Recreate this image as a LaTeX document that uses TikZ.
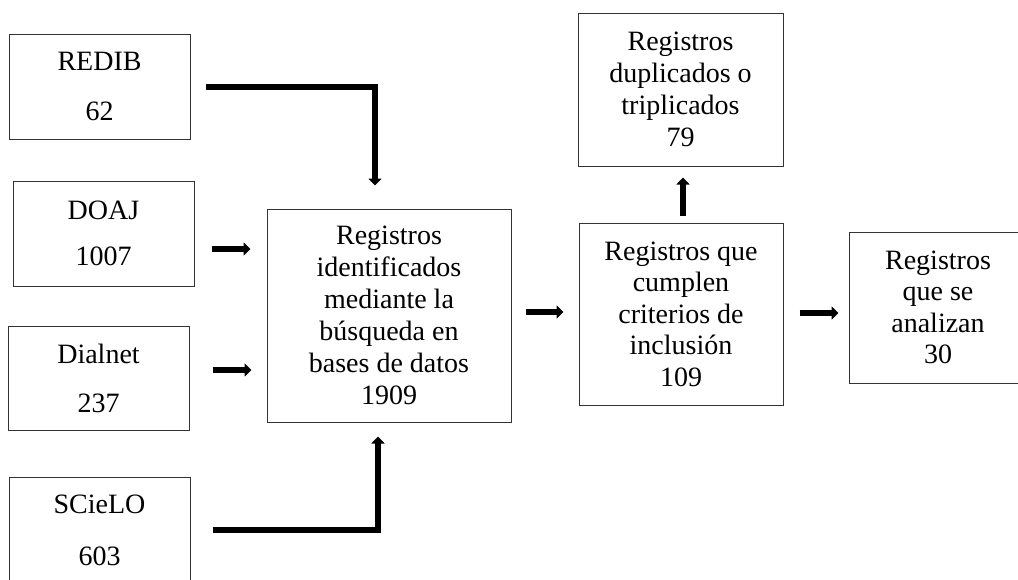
\documentclass[tikz,border=0pt]{standalone}
\usepackage{fontspec}
\setmainfont{Liberation Serif}
\usetikzlibrary{arrows.meta,calc}
\begin{document}
\begin{tikzpicture}[x=1pt,y=-1pt,
  box/.style={draw=black!80,line width=1pt,fill=white,align=center,inner sep=0pt,
    font=\fontsize{28}{32}\selectfont},
  arr/.style={line width=5.5pt,line join=miter,-{Triangle[width=13pt,length=7pt]}},
  elbow/.style={arr,line width=6.5pt}]
\path[use as bounding box,clip] (0,0) rectangle (1018,579);
\node[box,minimum width=181pt,minimum height=105pt,font=\fontsize{28}{50}\selectfont] (redib) at (99.5,86.5) {REDIB\\62};
\node[box,minimum width=181pt,minimum height=105pt,font=\fontsize{28}{46}\selectfont] (doaj) at (103.5,233.5) {DOAJ\\1007};
\node[box,minimum width=181pt,minimum height=104pt,font=\fontsize{28}{49}\selectfont] (dialnet) at (98.5,378) {Dialnet\\237};
\node[box,minimum width=181pt,minimum height=106pt,font=\fontsize{28}{52}\selectfont] (scielo) at (99.5,530) {SCieLO\\603};
\node[box,minimum width=244pt,minimum height=213pt] (center) at (389,315.5) {Registros\\identificados\\mediante la\\búsqueda en\\bases de datos\\1909};
\node[box,minimum width=205pt,minimum height=153pt] (dup) at (680.5,89.5) {Registros\\duplicados o\\triplicados\\79};
\node[box,minimum width=204pt,minimum height=182pt,font=\fontsize{28}{31.5}\selectfont] (incl) at (681,314) {Registros que\\cumplen\\criterios de\\inclusión\\109};
\node[box,minimum width=178pt,minimum height=151pt,font=\fontsize{28}{31.5}\selectfont] (anal) at (938,307.5) {Registros\\que se\\analizan\\30};
\draw[elbow] ($(redib.east)+(15,0.5)$) -| ($(center.north)+(-14,-23)$);
\draw[arr] ($(doaj.east)+(17,15.5)$) -- ($(center.west)+(-16,-66.5)$);
\draw[arr] ($(dialnet.east)+(23,-8)$) -- ($(center.west)+(-15,54.5)$);
\draw[elbow] ($(scielo.east)+(22,0)$) -| ($(center.south)+(-11,14)$);
\draw[arr] ($(center.east)+(14,-3.5)$) -- ($(incl.west)+(-15,-2)$);
\draw[arr] ($(incl.north)+(2,-7)$) -- ($(dup.south)+(2.5,11)$);
\draw[arr] ($(incl.east)+(16,-1)$) -- ($(anal.west)+(-10,5.5)$);
\end{tikzpicture}
\end{document}
